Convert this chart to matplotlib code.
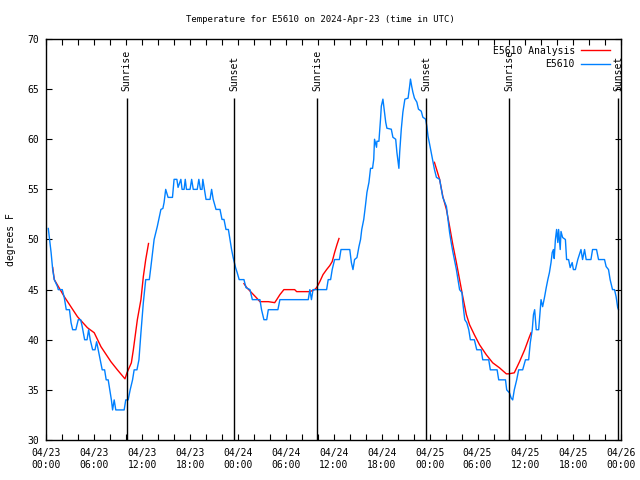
import numpy as np
import pandas as pd
import matplotlib
matplotlib.use("Agg")
import matplotlib.pyplot as plt
import matplotlib.dates as mdates

START = pd.Timestamp("2024-04-23 00:00")

# E5610 observations: hours since 04/23 00:00 UTC, degrees F
obs_hours = [0.25, 0.6, 0.8, 1.0, 1.4, 1.5, 2.0, 2.25, 2.5, 2.9, 3.1, 3.3, 3.7, 4.0, 4.3,
             4.5, 4.8, 5.1, 5.3, 5.5, 5.8, 6.1, 6.3, 6.5, 6.75, 7.0, 7.3, 7.5, 7.75, 7.95,
             8.15, 8.3, 8.5, 8.7, 9.75, 9.95, 10.25, 10.5, 10.8, 11.0, 11.35, 11.6, 11.85,
             12.15, 12.45, 12.9, 13.1, 13.5, 13.9, 14.35, 14.6, 14.75, 14.95, 15.25, 15.8,
             16.0, 16.35, 16.5, 16.85, 17.0, 17.25, 17.4, 17.55, 18.0, 18.2, 18.4, 18.9,
             19.1, 19.3, 19.5, 19.6, 19.8, 20.0, 20.5, 20.7, 20.9, 21.25, 21.75, 22.0,
             22.25, 22.5, 22.8, 23.0, 23.2, 23.4, 23.7, 23.9, 24.15, 24.75, 25.0, 25.5,
             25.8, 26.75, 26.95, 27.25, 27.6, 27.8, 29.0, 29.25, 32.8, 33.0, 33.2, 33.4,
             35.1, 35.3, 35.6, 35.8, 36.1, 36.7, 36.9, 38.0, 38.2, 38.4, 38.6, 38.9, 39.15,
             39.35, 39.5, 39.75, 39.95, 40.15, 40.4, 40.6, 40.85, 41.0, 41.1, 41.35, 41.4,
             41.65, 41.85, 41.95, 42.15, 42.3, 42.5, 42.65, 43.2, 43.4, 43.75, 43.9, 44.05,
             44.15, 44.25, 44.45, 44.65, 44.9, 45.3, 45.5, 45.6, 45.75, 45.9, 46.1, 46.4,
             46.6, 46.95, 47.15, 47.5, 47.65, 47.8, 48.0, 48.4, 48.6, 48.85, 49.25, 49.65,
             50.1, 50.3, 50.5, 50.7, 50.9, 51.1, 51.35, 51.55, 51.75, 52.05, 52.15, 52.4,
             52.65, 52.9, 53.1, 53.6, 53.9, 54.45, 54.65, 55.4, 55.6, 56.45, 56.65, 57.5,
             57.65, 58.0, 58.2, 58.4, 58.6, 58.9, 59.15, 59.65, 60.0, 60.4, 60.6, 60.85,
             61.0, 61.15, 61.35, 61.65, 61.85, 61.95, 62.15, 62.4, 62.6, 62.8, 63.0, 63.2,
             63.35, 63.5, 63.6, 63.75, 63.9, 64.05, 64.15, 64.35, 64.45, 64.65, 65.0, 65.15,
             65.4, 65.6, 65.85, 66.0, 66.25, 66.55, 66.95, 67.15, 67.4, 67.6, 68.2, 68.4,
             68.9, 69.15, 69.9, 70.1, 70.4, 70.6, 70.9, 71.15, 71.35, 71.55, 71.65]
obs_temps = [51.1, 48.7, 47, 46, 45.3, 45, 45, 44.2, 43, 43, 41.7, 41, 41, 42, 42,
             41.3, 40, 40, 41, 40, 39, 39, 39.8, 39, 38, 37, 37, 36, 36, 35,
             34, 33, 34, 33, 33, 34, 34, 35, 36, 37, 37, 38, 40.7,
             43.7, 46, 46, 47.3, 50, 51.3, 53, 53.1, 53.7, 55, 54.2, 54.2,
             56, 56, 55.2, 56, 55, 55, 56, 55, 55, 56, 55, 55,
             56, 55, 55, 56, 55, 54, 54, 55, 54, 53, 53, 52,
             52, 51, 51, 50, 49, 48.2, 47.2, 46.7, 46, 46, 45.2, 45,
             44, 44, 43, 42, 42, 43, 43, 44, 44, 45, 44, 45,
             45, 46, 46, 47, 48, 48, 49, 49, 47.7, 47, 48, 48.2, 49.3,
             50, 51, 52, 53.3, 54.7, 55.7, 57.1, 57.1, 58, 60, 59.2, 59.8,
             59.8, 62, 63.3, 64, 63, 61.7, 61.1, 61, 60.2, 60, 58.7, 57.7,
             57.1, 58.7, 61, 62.7, 64, 64.1, 65.3, 66, 65.3, 64.7, 64.1, 63.7,
             63, 62.8, 62.2, 62, 61.3, 60.3, 59.5, 57.8, 57, 56.2, 56, 54.2,
             53.3, 52, 50.7, 49.7, 48.8, 48, 47, 46, 45, 44.7, 43.7, 42,
             41.7, 41, 40, 40, 39, 39, 38, 38, 37, 37, 36, 36,
             35, 34.7, 34.2, 34, 35, 36, 37, 37, 38, 38, 39.7, 41,
             42.5, 43, 41, 41, 43, 44, 43.3, 44.3, 45.2, 46, 46.7, 47.7,
             48.7, 49, 48.1, 50, 51, 49.7, 51, 49, 50.8, 50.2, 50, 48,
             48, 47.2, 47.7, 47, 47, 48, 49, 48, 49, 48, 48, 49,
             49, 48, 48, 47.3, 47, 46, 45, 45, 44.3, 43.2, 43]

# E5610 Analysis, three separate night/morning pieces
ana1_hours = [0.8, 1.0, 2.25, 3.9, 5.15, 6.0, 6.85, 8.1, 8.9, 9.85, 10.1, 10.65,
              10.9, 11.4, 11.85, 12.15, 12.45, 12.8]
ana1_temps = [47.2, 46.0, 44.3, 42.3, 41.2, 40.7, 39.3, 37.8, 37.0, 36.1, 36.7, 37.7,
              39.0, 42.0, 44.0, 46.3, 48.0, 49.6]
ana2_hours = [24.75, 25.1, 25.7, 26.3, 26.75, 27.8, 28.6, 28.85, 29.25, 29.75, 31.1,
              31.35, 33.0, 33.6, 33.85, 34.25, 34.65, 35.1, 35.5, 35.8, 36.1, 36.4, 36.65]
ana2_temps = [45.6, 45.2, 44.7, 44.2, 43.8, 43.8, 43.7, 44.0, 44.5, 45.0, 45.0,
              44.8, 44.8, 45.0, 45.2, 45.8, 46.5, 47.0, 47.4, 47.8, 48.7, 49.5, 50.1]
ana3_hours = [48.6, 49.25, 49.65, 50.1, 50.5, 50.9, 51.35, 51.75, 52.15, 52.6, 53.0,
              53.6, 54.25, 55.1, 55.9, 56.75, 57.6, 57.9, 58.6, 59.25, 59.9, 60.5, 60.7]
ana3_temps = [57.7, 56.0, 54.3, 53.0, 51.3, 49.5, 47.7, 46.0, 44.3, 42.5, 41.5,
              40.5, 39.5, 38.5, 37.7, 37.2, 36.6, 36.6, 36.7, 37.8, 39.0, 40.3, 40.7]

sun_hours = [10.05, 23.55, 33.95, 47.6, 57.95, 71.6]
sun_labels = ["Sunrise", "Sunset", "Sunrise", "Sunset", "Sunrise", "Sunset"]


def to_time(hours):
    return START + pd.to_timedelta(np.asarray(hours, dtype=float), unit="h")


plt.rcParams["font.family"] = ["DejaVu Sans Mono", "DejaVu Sans"]
FS = 7

fig = plt.figure(figsize=(6.4, 4.8), dpi=100)
ax = fig.add_axes([46.3 / 640, 40 / 480, 575 / 640, 401 / 480])

red = "#ff0000"
blue = "#0080ff"
pieces = [(ana1_hours, ana1_temps), (ana2_hours, ana2_temps), (ana3_hours, ana3_temps)]
for i, (hh, tt) in enumerate(pieces):
    ax.plot(to_time(hh), tt, color=red, lw=1.0,
            label="E5610 Analysis" if i == 0 else None)
ax.plot(to_time(obs_hours), obs_temps, color=blue, lw=1.0, label="E5610")

for h, lab in zip(sun_hours, sun_labels):
    t = to_time([h])[0]
    ax.vlines(t, 30, 64.1, color="black", lw=1.0)
    ax.text(t, 64.8, lab, rotation=90, ha="center", va="bottom", fontsize=FS)

ax.set_xlim(START, START + pd.Timedelta(hours=72))
ax.set_ylim(30, 70)
ax.set_yticks(np.arange(30, 71, 5))
ax.xaxis.set_major_locator(mdates.HourLocator(byhour=[0, 6, 12, 18]))
ax.xaxis.set_minor_locator(mdates.HourLocator(byhour=range(0, 24, 2)))
ax.xaxis.set_major_formatter(mdates.DateFormatter("%m/%d\n%H:%M"))

ax.tick_params(which="both", direction="in", top=True, right=True, length=4,
               width=0.8, labelsize=FS)
ax.tick_params(axis="x", pad=6)
ax.tick_params(axis="y", pad=5)
for s in ax.spines.values():
    s.set_linewidth(1.0)

ax.legend(loc="upper right", bbox_to_anchor=(0.980, 0.983), frameon=False,
          markerfirst=False, fontsize=FS, handlelength=3.0, handletextpad=0.6,
          labelspacing=0.35, borderpad=0, borderaxespad=0)

fig.text(0.5, 1 - 20 / 480, "Temperature for E5610 on 2024-Apr-23 (time in UTC)",
         ha="center", va="center", fontsize=6.5)
fig.text(11 / 640, 0.5, "degrees F", rotation=90, ha="center", va="center", fontsize=FS)

fig.savefig("out.png", dpi=100)
